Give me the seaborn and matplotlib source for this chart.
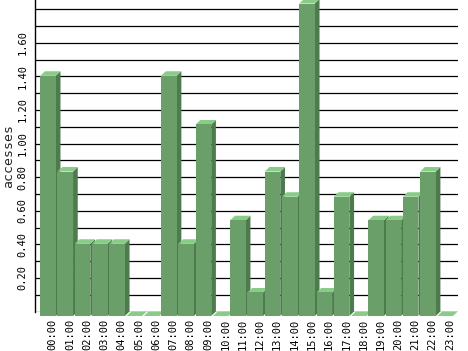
import matplotlib
matplotlib.use("Agg")
import matplotlib.pyplot as plt
from matplotlib.patches import Polygon
import seaborn as sns
import numpy as np

hours = ["00:00", "01:00", "02:00", "03:00", "04:00", "05:00", "06:00", "07:00",
         "08:00", "09:00", "10:00", "11:00", "12:00", "13:00", "14:00", "15:00",
         "16:00", "17:00", "18:00", "19:00", "20:00", "21:00", "22:00", "23:00"]
accesses = [1.43, 0.86, 0.43, 0.43, 0.43, 0.00, 0.00, 1.43,
            0.43, 1.14, 0.00, 0.57, 0.14, 0.86, 0.71, 1.86,
            0.14, 0.71, 0.00, 0.57, 0.57, 0.71, 0.86, 0.00]
ytick_vals = [0.2, 0.4, 0.6, 0.8, 1.0, 1.2, 1.4, 1.6]
ytick_labels = ["0.20", "0.40", "0.60", "0.80", "1.00", "1.20", "1.40", "1.60"]

FRONT = "#6a9f6a"
TOP = "#88cc88"
SIDE = "#4e7b4e"

sns.set_style("white")
plt.rcParams["font.family"] = ["DejaVu Sans Mono", "DejaVu Sans"]

W, H = 468, 351
fig = plt.figure(figsize=(W / 100, H / 100), dpi=100)
ax_left, ax_right, ax_bottom_px = 35, 458, 311.5
ax = fig.add_axes([ax_left / W, (H - ax_bottom_px) / H, (ax_right - ax_left) / W, ax_bottom_px / H])

sns.barplot(x=hours, y=accesses, color=FRONT, saturation=1, width=0.9,
            linewidth=0, ax=ax)

step_px = 17.27
px_per_unit = 168.0
xmin = -(52.7 - ax_left) / step_px
xmax = xmin + (ax_right - ax_left) / step_px
ax.set_xlim(xmin, xmax)
ax.set_ylim(0, ax_bottom_px / px_per_unit)

dx = 4.7 / step_px
dy = 4.5 / px_per_unit

bars = list(ax.patches)
for i, p in enumerate(bars):
    x = p.get_x()
    w = p.get_width()
    h = p.get_height()
    z = 3 + i * 0.01
    side = Polygon([(x + w - dx, -dy), (x + w, 0), (x + w, h), (x + w - dx, h - dy)],
                   closed=True, facecolor=SIDE, edgecolor="none", zorder=z, clip_on=False)
    top = Polygon([(x - dx, h - dy), (x + w - dx, h - dy), (x + w, h), (x, h)],
                  closed=True, facecolor=TOP, edgecolor="none", zorder=z + 0.001, clip_on=False)
    ax.add_patch(side)
    ax.add_patch(top)
    p.set_x(x - dx)
    p.set_y(-dy)
    p.set_zorder(z + 0.002)
    p.set_clip_on(False)

# gridlines on the back wall
for k in range(0, 19):
    ax.axhline(k * 0.1, color="black", linewidth=0.9, zorder=1)

ax.set_yticks(ytick_vals)
ax.set_yticklabels(ytick_labels, rotation=90, va="center", fontsize=7.5)
ax.set_xticks(range(len(hours)))
ax.set_xticklabels(hours, rotation=90, fontsize=7.5)
ax.tick_params(axis="both", length=0, colors="black")
ax.tick_params(axis="y", pad=5.5)
ax.tick_params(axis="x", pad=5.5)
ax.set_xlabel("")
ax.set_ylabel("accesses", fontsize=9.5)
ax.yaxis.set_label_coords((15 - ax_left) / (ax_right - ax_left), 0.5)

for s in ["top", "right", "bottom"]:
    ax.spines[s].set_visible(False)
ax.spines["left"].set_color("black")
ax.spines["left"].set_linewidth(1.0)
ax.spines["left"].set_zorder(10)
ax.grid(False)

fig.savefig("out.png", dpi=100)
